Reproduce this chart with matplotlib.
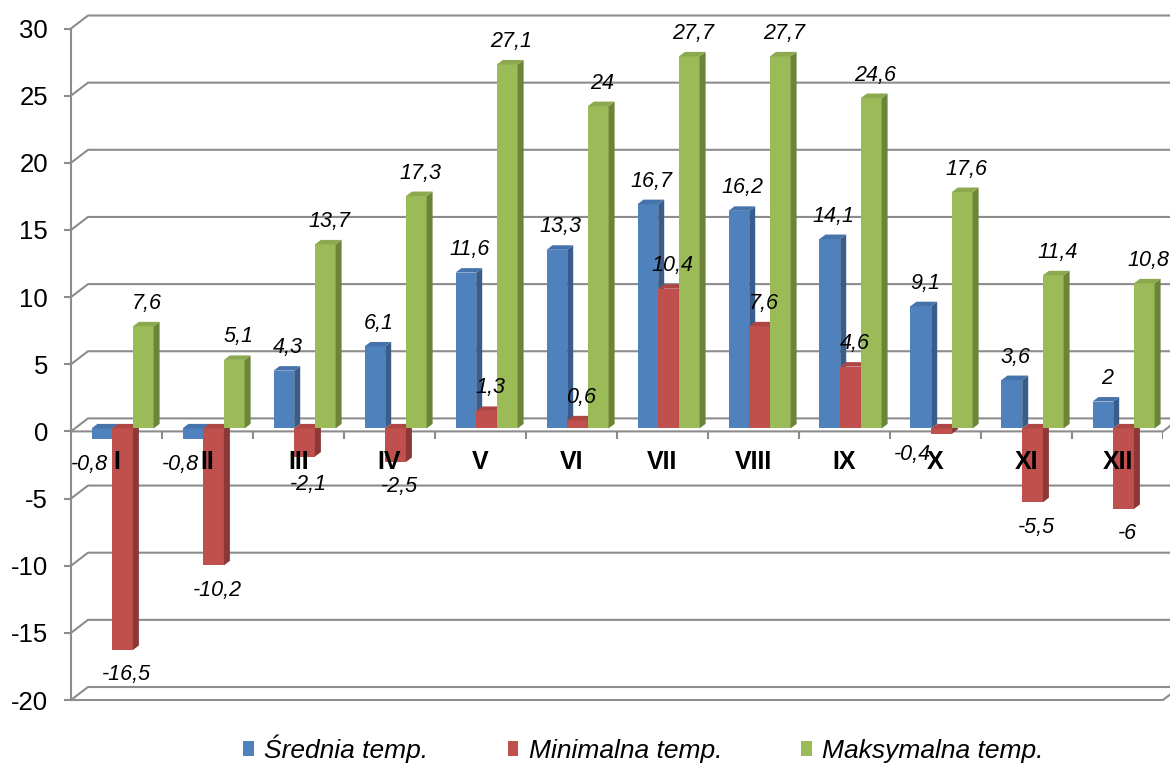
import matplotlib
matplotlib.use("Agg")
import matplotlib.pyplot as plt
from matplotlib.patches import Polygon, Patch

plt.rcParams['font.family'] = ['Liberation Sans', 'DejaVu Sans']
plt.rcParams['axes.unicode_minus'] = False

# data
months = ['I', 'II', 'III', 'IV', 'V', 'VI', 'VII', 'VIII', 'IX', 'X', 'XI', 'XII']
srednia = [-0.8, -0.8, 4.3, 6.1, 11.6, 13.3, 16.7, 16.2, 14.1, 9.1, 3.6, 2]
minimalna = [-16.5, -10.2, -2.1, -2.5, 1.3, 0.6, 10.4, 7.6, 4.6, -0.4, -5.5, -6]
maksymalna = [7.6, 5.1, 13.7, 17.3, 27.1, 24, 27.7, 27.7, 24.6, 17.6, 11.4, 10.8]
series_names = ['Średnia temp.', 'Minimalna temp.', 'Maksymalna temp.']
yticks = [-20, -15, -10, -5, 0, 5, 10, 15, 20, 25, 30]

# colours: front, side, top
colors = [('#4F81BD', '#385D8A', '#4673AB'),
          ('#C0504D', '#8C3836', '#AE4744'),
          ('#9BBB59', '#6C8438', '#8CA94F')]
grid_c = '#8C8C8C'

W, H = 1170, 764
fig = plt.figure(figsize=(W / 100, H / 100), dpi=100)
ax_l, ax_r, ax_t, ax_b = 71, 1163, 28.5, 700
ax = fig.add_axes([ax_l / W, (H - ax_b) / H, (ax_r - ax_l) / W, (ax_b - ax_t) / H])
ax.set_xlim(0, len(months))
ax.set_ylim(-20, 30)

# pixel -> data unit factors
PX = len(months) / (ax_r - ax_l)
PY = 50 / (ax_b - ax_t)

# back wall offset
wdx, wdy = 17 * PX, 13 * PY
for v in yticks:
    xs = [0, wdx, len(months) + 30 * PX]
    ys = [v, v + wdy, v + wdy]
    ax.plot(xs, ys, color=grid_c, lw=1.5, zorder=1, clip_on=False, solid_capstyle='butt')
for v in (-20, 0):
    ax.plot([0, len(months), len(months) + wdx], [v, v, v + wdy], color=grid_c, lw=1.5,
            zorder=1, clip_on=False)
ax.vlines(range(1, len(months) + 1), 0, -8 * PY, color=grid_c, lw=1.5, zorder=1)

# bars
z0 = 3 * PY
bw = 20.7 * PX
ddx, ddy = 6 * PX, 4.5 * PY
nudge = {(0, 0): (-16, 0), (1, 0): (-16, 0), (9, 1): (-33, 4), (2, 1): (0, -3)}
all_series = [srednia, minimalna, maksymalna]
zo = 2
for i in range(len(months)):
    for k, vals in enumerate(all_series):
        v = vals[i]
        front, side, top = colors[k]
        x0 = i + (20.5 + 20.7 * k) * PX
        x1 = x0 + bw
        zo += 0.01
        ax.bar(x0, v, width=bw, bottom=z0, align='edge', color=front, lw=0, zorder=zo)
        ax.add_patch(Polygon([(x1, z0), (x1 + ddx, z0 + ddy), (x1 + ddx, z0 + v + ddy), (x1, z0 + v)],
                             closed=True, facecolor=side, lw=0, zorder=zo))
        t = z0 + max(v, 0)
        ax.add_patch(Polygon([(x0, t), (x0 + ddx, t + ddy), (x1 + ddx, t + ddy), (x1, t)],
                             closed=True, facecolor=top, lw=0, zorder=zo))
        dxp, dyp = nudge.get((i, k), (0, 0))
        off = 23 if v > 0 else -25
        ax.annotate(f"{v:g}".replace('.', ','), (x0 + bw / 2 + 2 * PX, z0 + v),
                    xytext=((2 + dxp) * 0.72, (off + dyp) * 0.72), textcoords='offset points',
                    ha='center', va='center', fontsize=15.5, style='italic', zorder=10)

# category labels
for i, m in enumerate(months):
    ax.annotate(m, (i + 0.5, 0), xytext=(0, -31 * 0.72), textcoords='offset points',
                ha='center', va='center', fontsize=18, fontweight='bold', zorder=10)

# axes styling
for s in ('top', 'right', 'bottom'):
    ax.spines[s].set_visible(False)
ax.spines['left'].set_color(grid_c)
ax.spines['left'].set_linewidth(1.5)
ax.set_xticks([])
ax.set_yticks(yticks)
ax.tick_params(axis='y', length=5, width=1.5, color=grid_c, pad=11.5, labelsize=18.5)

handles = [Patch(facecolor=colors[k][0], edgecolor='none', label=series_names[k]) for k in range(3)]
fig.legend(handles=handles, loc='center', bbox_to_anchor=(0.55, 0.02), ncol=3, frameon=False,
           prop={'style': 'italic', 'size': 19}, handlelength=0.4, handleheight=0.5,
           handletextpad=0.4, columnspacing=3.0)

fig.savefig('out.png', dpi=100)
